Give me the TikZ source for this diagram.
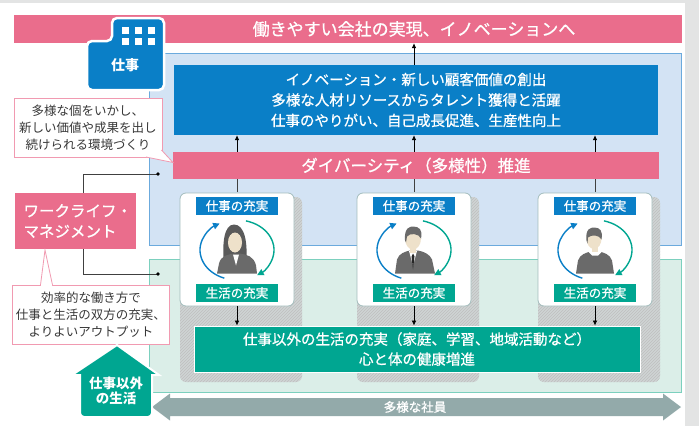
\documentclass[tikz,border=0pt]{standalone}
\usepackage{fontspec}
\setmainfont{Noto Sans CJK JP}
\newfontfamily\medfont{Noto Sans CJK JP}[FakeBold=0.8]
\usetikzlibrary{arrows.meta,patterns}

\definecolor{wlpink}{HTML}{EA6D8C}
\definecolor{notepink}{HTML}{F19AB1}
\definecolor{workblue}{HTML}{0A7FC7}
\definecolor{workpanel}{HTML}{D3E3F4}
\definecolor{workline}{HTML}{6BAADD}
\definecolor{lifegreen}{HTML}{00A691}
\definecolor{lifepanel}{HTML}{DBEEE8}
\definecolor{lifeline}{HTML}{7CD0BE}
\definecolor{staffgray}{HTML}{93AAAA}
\definecolor{cardline}{HTML}{A3BDBD}
\definecolor{shadowgray}{HTML}{CFD4D4}
\definecolor{skin}{HTML}{EEE1CA}
\definecolor{hair}{HTML}{6A6A6A}
\definecolor{framegray}{HTML}{E3E4E4}
\definecolor{notetext}{HTML}{383838}

\begin{document}
\begin{tikzpicture}[x=1pt,y=-1pt,
    flow/.style={-{Latex[length=5pt,width=4.5pt]},black,line width=0.7pt},
    link/.style={black!75,line width=0.7pt},
    cyc/.style={-{Triangle[length=6.5pt,width=6.5pt]},line width=1.4pt},
    card/.style={fill=white,draw=cardline,line width=0.8pt,rounded corners=6pt,
        minimum width=114pt,minimum height=113pt},
    tag/.style={text=white,minimum width=82pt,minimum height=18pt,inner sep=0pt,
        font=\fontsize{12.5}{14}\medfont},
    note/.style={fill=white,draw=notepink,line width=0.8pt,align=center,
        text=notetext,font=\fontsize{12.5}{16.8}\selectfont},
    shade/.style={fill=shadowgray,postaction={pattern=north east lines,pattern color=gray!50}}]
    \useasboundingbox (0,0) rectangle (699,426);
    \fill[white] (0,0) rectangle (699,426);
    \fill[framegray] (0,0) rectangle (699,3);
    \fill[framegray] (685,0) rectangle (699,426);

    % goal bar
    \fill[wlpink] (14,15) rectangle (682,43);
    \node[text=white,minimum height=28pt,inner sep=0pt,font=\fontsize{17}{20}\medfont] (goal) at (414,29) {働きやすい会社の実現、イノベーションへ};

    % work and life panels
    \filldraw[fill=workpanel,draw=workline,line width=1pt] (149,53) rectangle (681,245);
    \filldraw[fill=lifepanel,draw=lifeline,line width=1pt] (149,259) rectangle (681,392);

    % office tab
    \filldraw[fill=workblue,draw=white,line width=2.5pt,rounded corners=5pt]
        (87,90) -- (87,41) -- (112,41) -- (112,18) -- (164,18) -- (164,90) -- cycle;
    \foreach \i in {125.5,138.5,151.5}
        \foreach \j in {30,41.5}
            \fill[white] (\i-3.5,\j-3.5) rectangle ++(7,7);
    \node[text=white,font=\fontsize{14}{16}\selectfont\bfseries] (work) at (125,65) {仕事};

    \node[fill=workblue,text=white,minimum width=484pt,minimum height=70pt,align=center,
        font=\fontsize{14.5}{20.5}\medfont] (inno) at (416,100)
        {イノベーション・新しい顧客価値の創出\\多様な人材リソースからタレント獲得と活躍\\仕事のやりがい、自己成長促進、生産性向上};
    \node[fill=wlpink,text=white,minimum width=486pt,minimum height=27pt,
        font=\fontsize{16.5}{19}\medfont] (div) at (416,165.5) {ダイバーシティ（多様性）推進};

    % card shadows, life box, cards
    \foreach \x in {237,414,595}
        \fill[shade,rounded corners=6pt] (\x-57,197) rectangle (\x+65,382);
    \node[fill=lifegreen,draw=white,line width=0.8pt,text=white,minimum width=446pt,minimum height=46pt,
        align=center,font=\fontsize{14.5}{20}\medfont] (life) at (417,349)
        {仕事以外の生活の充実（家庭、学習、地域活動など）\\心と体の健康増進};
    \foreach \n/\x in {1/237,2/414,3/595} {
        \draw[link] (\x,192) -- (\x,179);
        \node[card] (card\n) at (\x,249.5) {};
        \node[tag,fill=workblue] (job\n) at (\x,206) {仕事の充実};
        \node[tag,fill=lifegreen] (home\n) at (\x,293) {生活の充実};
        \draw[cyc,workblue] ([shift={(-250:37 and 30)}]\x,250) arc[start angle=-250,end angle=-118,x radius=37,y radius=30];
        \draw[cyc,lifegreen] ([shift={(-76:37 and 30)}]\x,250) arc[start angle=-76,end angle=57,x radius=37,y radius=30];
        \draw[flow] (card\n.south) -- (card\n.south |- life.north);
        \draw[flow] (card\n.north |- div.north) -- (card\n.north |- inno.south);
    }
    \draw[flow] (goal.south |- inno.north) -- (goal.south);

    % woman
    \begin{scope}[shift={(card1.center)}]
        \fill[hair!85!black] (-13,14) .. controls (-15,-6) and (-13,-25) .. (-3,-25) .. controls (8,-25) and (11,-6) .. (9,14) -- cycle;
        \fill[skin] (-2,-7) ellipse [x radius=7,y radius=10];
        \fill[hair] (-20,24) -- (-18,14) .. controls (-16,6) and (-9,5) .. (-3,4) -- (3,4) .. controls (10,5) and (17,7) .. (19,16) -- (20,24) -- cycle;
        \fill[white] (-4,5) -- (-1,16) -- (2,5) -- cycle;
    \end{scope}
    % man in a suit
    \begin{scope}[shift={(card2.center)}]
        \fill[hair] (-19,24) -- (-17,10) .. controls (-15,4) and (-9,2) .. (-4,1) -- (4,1) .. controls (10,2) and (16,5) .. (18,10) -- (21,24) -- cycle;
        \fill[white] (-5,1.5) -- (-1,16) -- (3,1.5) -- cycle;
        \fill[black!85] (-1,4) -- (-2.5,7) -- (-1,20) -- (0.5,7) -- cycle;
        \fill[skin] (-4,-4) rectangle (2,3);
        \fill[skin] (-1,-11) ellipse [x radius=8,y radius=11];
        \fill[hair] (-9,-9) .. controls (-10,-22) and (-4,-23) .. (-1,-23) .. controls (5,-23) and (9,-20) .. (7,-11)
            .. controls (5,-16) and (-4,-17) .. (-7,-13) -- (-8,-7) -- cycle;
    \end{scope}
    % man in a shirt
    \begin{scope}[shift={(card3.center)}]
        \fill[hair] (-19,24) -- (-17,11) .. controls (-15,5) and (-9,3) .. (-4,2) -- (4,2) .. controls (9,3) and (15,5) .. (17,11) -- (19,24) -- cycle;
        \fill[white] (-7,2) -- (-3,6) -- (3,6) -- (7,2) -- (4,1) -- (-4,1) -- cycle;
        \fill[skin] (-3,-3) rectangle (3,2);
        \fill[skin] (-1,-11) ellipse [x radius=7.5,y radius=10.5];
        \fill[hair] (-8.5,-9) .. controls (-10,-21) and (-4,-22) .. (-1,-22) .. controls (5,-22) and (8,-19) .. (6.5,-10)
            .. controls (4,-15) and (-4,-15) .. (-7,-12) -- (-7.5,-6) -- cycle;
    \end{scope}

    % callouts
    \node[note,minimum width=148pt,minimum height=59pt] (idea) at (88,127.5)
        {多様な個をいかし、\\新しい価値や成果を出し\\続けられる環境づくり};
    \filldraw[fill=white,draw=notepink,line width=0.8pt] (146,157) -- (173,162.5) -- (161.5,150);

    \coordinate (wtop) at (158,174);
    \coordinate (wbot) at (158,274);
    \draw[link] (wtop) -- (83,174) -- (83,274) -- (wbot);
    \fill (wtop) circle (1.8);
    \fill (wbot) circle (1.8);
    \node[fill=wlpink,text=white,minimum width=121pt,minimum height=56pt,text width=104pt,align=left,
        font=\fontsize{15.5}{20.5}\medfont] (wlm) at (75.5,221) {ワークライフ・\\マネジメント};

    \node[note,minimum width=154pt,minimum height=59pt] (output) at (91,314.5)
        {効率的な働き方で\\仕事と生活の双方の充実、\\よりよいアウトプット};
    \filldraw[fill=white,draw=notepink,line width=0.8pt] (40.5,285) -- (45,250) -- (52.5,285);
    \fill[white] (41.3,284) rectangle (51.7,286.5);

    % staff arrow and house
    \fill[staffgray] (152,407) -- (170,393.5) -- (170,398) -- (663,398) -- (663,393.5) -- (681,407)
        -- (663,420.5) -- (663,416) -- (170,416) -- (170,420.5) -- cycle;
    \node[text=white,font=\fontsize{12.5}{14}\medfont] (staff) at (415,407) {多様な社員};
    \filldraw[fill=lifegreen,draw=white,line width=2pt] (117,345) -- (159,375) -- (152,375)
        [rounded corners=4pt] -- (152,417) -- (80,417) [sharp corners] -- (80,375) -- (72,375) -- cycle;
    \node[text=white,align=center,font=\fontsize{13.5}{15.5}\selectfont\bfseries] (house) at (116,391) {仕事以外\\の生活};
\end{tikzpicture}
\end{document}
